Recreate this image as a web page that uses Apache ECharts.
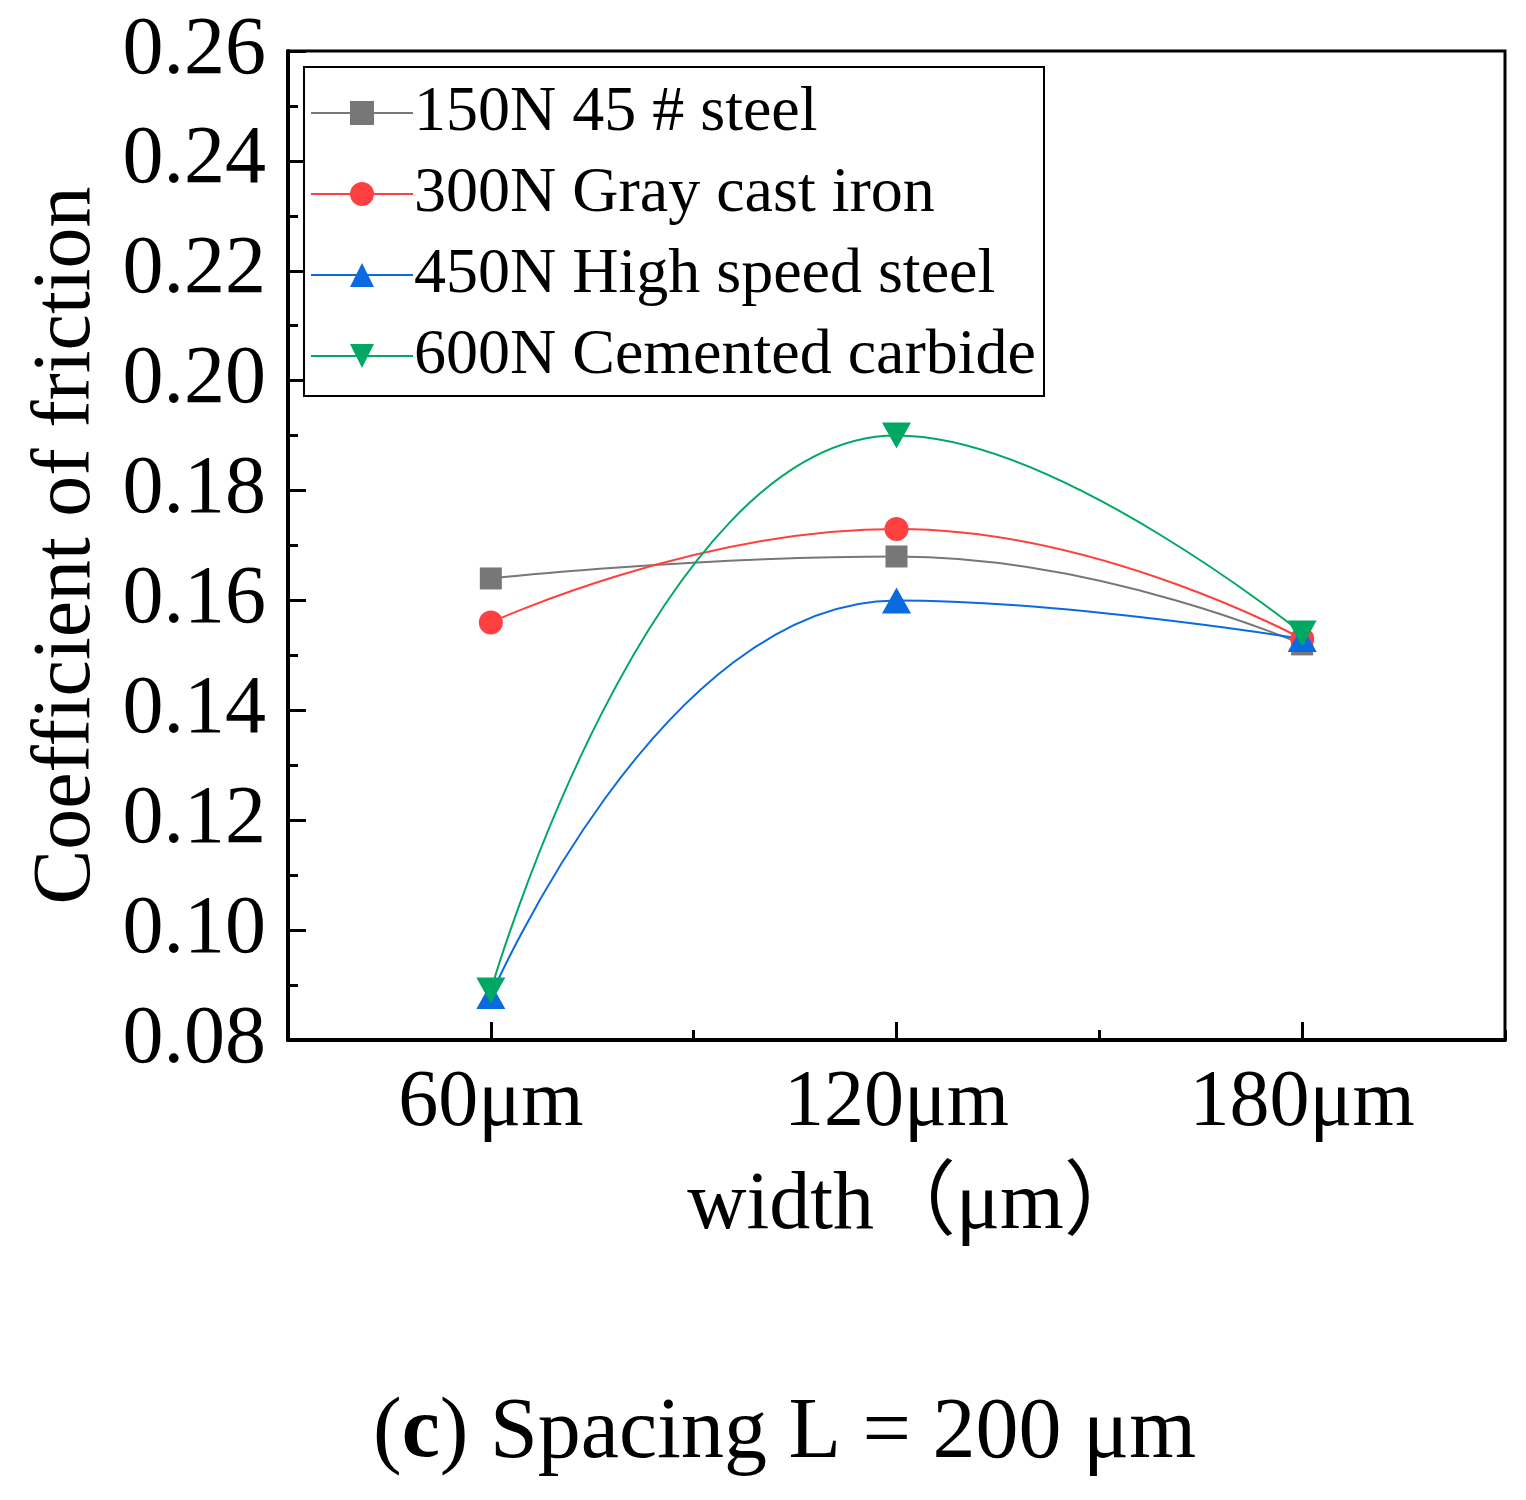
<!DOCTYPE html>
<html lang="en">
<head>
    <meta charset="UTF-8">
    <script src="https://cdn.jsdelivr.net/npm/echarts@6/dist/echarts.min.js"></script>
    <title>Coefficient of friction</title>
    <style>
        html, body { margin: 0; padding: 0; background: #fff; }
    </style>
</head>
<body>
<div id="main" style="width: 1526px;height:1500px;"></div>
<script type="text/javascript">
    // data
    var widths = ['60μm', '120μm', '180μm'];
    var steel45 = [0.164, 0.168, 0.152];
    var grayIron = [0.156, 0.173, 0.153];
    var hsSteel = [0.088, 0.160, 0.153];
    var carbide = [0.089, 0.190, 0.154];
    var yTicks = [0.08, 0.10, 0.12, 0.14, 0.16, 0.18, 0.20, 0.22, 0.24, 0.26];

    var FONT = "'Liberation Serif', 'Times New Roman', 'Noto Sans CJK SC', serif";
    var downTri = 'path://M0,0 L20,0 L10,18 Z';

    var myChart = echarts.init(document.getElementById('main'));

    function line(name, data, color, symbol, size) {
        return {
            name: name,
            type: 'line',
            data: data,
            smooth: 0.5,
            symbol: symbol,
            symbolSize: size,
            showSymbol: true,
            lineStyle: { color: color, width: 2 },
            itemStyle: { color: color },
            z: 3
        };
    }

    var option = {
        backgroundColor: '#fff',
        animation: false,
        title: {
            text: '{n|(}{b|c}{n|) Spacing L = 200 μm}',
            left: 368,
            top: 1386,
            textStyle: {
                fontWeight: 'normal',
                rich: {
                    n: { fontFamily: FONT, fontSize: 86, fontWeight: 'normal', color: '#000' },
                    b: { fontFamily: FONT, fontSize: 86, fontWeight: 'bold', color: '#000' }
                }
            }
        },
        grid: {
            left: 288,
            right: 21,
            top: 51,
            bottom: 460,
            show: true,
            borderColor: '#000',
            borderWidth: 3,
            containLabel: false
        },
        legend: {
            orient: 'vertical',
            left: 304,
            top: 67,
            padding: [14, 8, 8, 6],
            itemGap: 17,
            itemWidth: 102,
            itemHeight: 30,
            borderColor: '#000',
            borderWidth: 2,
            backgroundColor: '#fff',
            textStyle: { fontFamily: FONT, fontSize: 64, lineHeight: 64, color: '#000', padding: [0, 0, 0, -4] },
            data: ['150N 45 # steel', '300N Gray cast iron', '450N High speed steel', '600N Cemented carbide']
        },
        xAxis: [{
            type: 'category',
            data: widths,
            boundaryGap: true,
            name: 'width（μm）',
            nameLocation: 'middle',
            nameGap: 125,
            nameTextStyle: { fontFamily: FONT, fontSize: 82, color: '#000', padding: [0, 0, 0, 40] },
            axisLine: { show: true, lineStyle: { color: '#000', width: 4 } },
            axisTick: { show: true, alignWithLabel: true, inside: true, length: 18, lineStyle: { color: '#000', width: 3 } },
            axisLabel: { fontFamily: FONT, fontSize: 80, color: '#000', margin: 24 },
            splitLine: { show: false }
        }, {
            type: 'category',
            data: widths,
            boundaryGap: true,
            position: 'bottom',
            axisLine: { show: false },
            axisTick: { show: true, inside: true, length: 10, lineStyle: { color: '#000', width: 3 } },
            axisLabel: { show: false },
            splitLine: { show: false }
        }],
        yAxis: {
            type: 'value',
            min: yTicks[0],
            max: yTicks[yTicks.length - 1],
            interval: 0.02,
            name: 'Coefficient of friction',
            nameLocation: 'middle',
            nameGap: 180,
            nameTextStyle: { fontFamily: FONT, fontSize: 82, color: '#000' },
            axisLine: { show: true, lineStyle: { color: '#000', width: 4 } },
            axisTick: { show: true, inside: true, length: 18, lineStyle: { color: '#000', width: 3 } },
            minorTick: { show: true, splitNumber: 2, length: 10, lineStyle: { color: '#000', width: 3 } },
            axisLabel: {
                fontFamily: FONT, fontSize: 82, color: '#000', margin: 22,
                formatter: function (v) { return v.toFixed(2); }
            },
            splitLine: { show: false }
        },
        series: [
            line('150N 45 # steel', steel45, '#777777', 'rect', 22),
            line('300N Gray cast iron', grayIron, '#FF4040', 'circle', 24),
            line('450N High speed steel', hsSteel, '#0A6AE0', 'triangle', [29, 26]),
            line('600N Cemented carbide', carbide, '#00A864', downTri, [29, 26])
        ]
    };

    myChart.setOption(option);
</script>
</body>
</html>
